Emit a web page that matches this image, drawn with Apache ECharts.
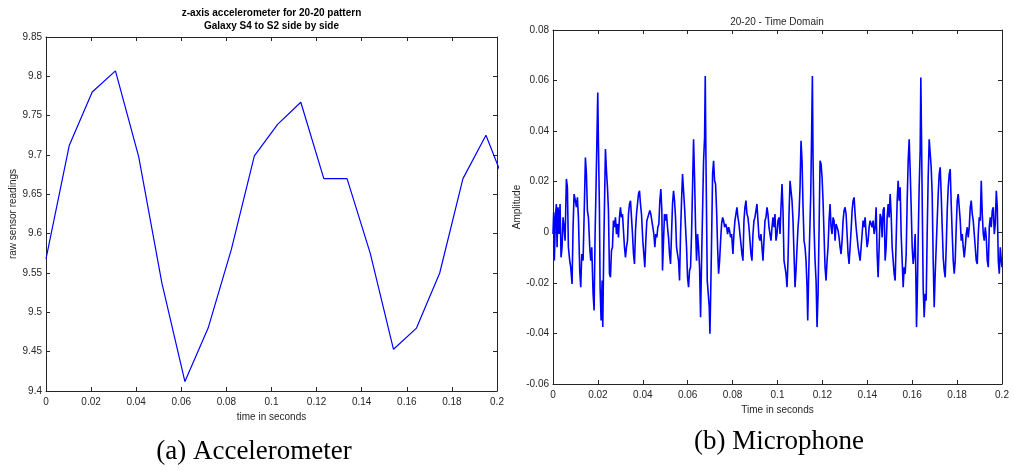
<!DOCTYPE html>
<html>
<head>
<meta charset="utf-8">
<script src="https://cdn.jsdelivr.net/npm/echarts@6/dist/echarts.min.js"></script>
<style>
html,body{margin:0;padding:0;background:#fff;}
#c{width:1014px;height:471px;}
</style>
</head>
<body>
<div id="c"></div>
<script>
// ---------- (a) accelerometer ----------
const accTime = [0, 0.0103, 0.0205, 0.0308, 0.0411, 0.0514, 0.0616, 0.0719, 0.0822, 0.0924, 0.1027,
  0.1130, 0.1232, 0.1335, 0.1438, 0.1541, 0.1643, 0.1746, 0.1849, 0.1951, 0.2054];
const accValue = [9.568, 9.712, 9.780, 9.807, 9.698, 9.537, 9.412, 9.480, 9.580, 9.699, 9.739,
  9.767, 9.670, 9.670, 9.575, 9.453, 9.480, 9.550, 9.670, 9.725, 9.650];

// ---------- (b) microphone (time in ms, amplitude in 1e-3 units) ----------
const micTimeMs = [
  0, 0.31, 0.61, 1.06, 1.50, 1.80, 2.25, 2.69, 3.14, 3.59,
  4.03, 4.48, 4.92, 5.37, 5.97, 6.41, 6.86, 7.45, 7.90, 8.49,
  8.94, 9.39, 9.98, 10.43, 10.87, 11.32, 11.91, 12.36, 12.81, 13.40,
  13.85, 14.44, 14.89, 15.33, 15.78, 16.37, 16.82, 17.27, 17.86, 18.31,
  18.75, 19.05, 19.50, 19.94, 20.24, 20.69, 20.98, 21.43, 21.88, 22.17,
  22.62, 23.07, 23.36, 23.81, 24.26, 24.70, 25.15, 25.59, 26.04, 26.49,
  26.93, 27.38, 27.82, 28.27, 28.72, 29.16, 29.61, 30.05, 30.50, 30.95,
  31.39, 31.84, 32.28, 32.73, 33.18, 33.62, 34.07, 34.52, 34.96, 35.41,
  35.85, 36.30, 36.75, 37.19, 37.64, 38.08, 38.53, 38.97, 39.42,
  40.01, 40.45, 40.90, 41.35, 41.79, 42.24, 42.68, 43.13, 43.58, 44.02,
  44.47, 44.92, 45.36, 45.81, 46.25, 46.70, 47.15, 47.59, 48.04, 48.48,
  48.78, 49.23, 49.67, 50.12, 50.57, 51.01, 51.46, 51.90, 52.35, 52.80,
  53.24, 53.69, 54.13, 54.58, 55.03, 55.47, 55.92, 56.37, 56.81, 57.26,
  57.70, 58.15, 58.60, 59.04, 59.49, 59.93, 60.38, 60.83, 61.27, 61.72,
  62.16, 62.61, 63.06, 63.50, 63.95, 64.40, 64.84, 65.29, 65.73, 66.18,
  66.63, 67.07, 67.52, 67.82, 68.11, 68.41, 68.71, 69.15, 69.60, 69.90,
  70.19, 70.64, 71.09, 71.53, 71.98, 72.42, 72.87, 73.32, 73.76, 74.21,
  74.66, 75.10, 75.55, 75.99, 76.44, 76.89, 77.33, 77.78, 78.22, 78.67, 79.12, 79.56,
  80.15, 80.59, 81.04, 81.49, 81.93, 82.38, 82.82, 83.27, 83.72, 84.16,
  84.61, 85.06, 85.50, 85.95, 86.39, 86.84, 87.29, 87.73, 88.18, 88.62,
  89.07, 89.52, 89.96, 90.41, 90.85, 91.30, 91.75, 92.19, 92.64, 93.09,
  93.53, 93.98, 94.42, 94.87, 95.32, 95.76, 96.21, 96.65, 97.10, 97.55,
  97.99, 98.44, 98.88, 99.33, 99.78, 100.22, 100.67, 101.12, 101.56, 102.01,
  102.45, 102.90, 103.35, 103.79, 104.24, 104.68, 105.13, 105.58, 106.02, 106.47,
  106.91, 107.36, 107.81, 108.25, 108.70, 109.15, 109.59, 110.04, 110.48, 110.93,
  111.38, 111.82, 112.27, 112.71, 113.16, 113.46, 113.90, 114.35, 114.80, 115.24,
  115.54, 115.84, 116.28, 116.73, 117.18, 117.62, 118.07, 118.51, 118.96, 119.41, 119.85,
  120.29, 120.73, 121.18, 121.63, 122.07, 122.52, 122.96, 123.41, 123.86, 124.30,
  124.75, 125.20, 125.64, 126.09, 126.53, 126.98, 127.43, 127.87, 128.32, 128.76,
  129.21, 129.66, 130.10, 130.55, 130.99, 131.44, 131.89, 132.33, 132.78, 133.23,
  133.67, 134.12, 134.56, 135.01, 135.46, 135.90, 136.35, 136.79, 137.24, 137.69,
  138.13, 138.58, 139.02, 139.47, 139.92, 140.36, 140.81, 141.26, 141.70, 142.15,
  142.59, 143.04, 143.49, 143.93, 144.38, 144.82, 145.27, 145.72, 146.16, 146.61,
  147.05, 147.50, 147.95, 148.39, 148.84, 149.29, 149.73, 150.18, 150.62, 151.07,
  151.52, 151.96, 152.41, 152.85, 153.30, 153.75, 154.19, 154.64, 155.08, 155.53,
  155.98, 156.42, 156.87, 157.32, 157.76, 158.21, 158.65, 159.10, 159.55, 159.99,
  160.43, 160.87, 161.32, 161.62, 161.92, 162.21, 162.66, 163.10, 163.55, 163.85,
  164.15, 164.59, 164.89, 165.34, 165.78, 166.23, 166.67, 167.12, 167.57, 168.01,
  168.46, 168.90, 169.35, 169.80, 170.24, 170.69, 171.13, 171.58, 172.03, 172.47,
  172.92, 173.37, 173.81, 174.26, 174.70, 175.15, 175.60, 176.04, 176.49, 176.93,
  177.38, 177.83, 178.27, 178.72, 179.16, 179.61, 180.06, 180.50, 180.95, 181.40,
  181.84, 182.29, 182.73, 183.18, 183.63, 184.07, 184.52, 184.96, 185.41, 185.86,
  186.30, 186.75, 187.19, 187.64, 188.09, 188.53, 188.98, 189.43, 189.87, 190.32,
  190.76, 191.21, 191.66, 192.10, 192.55, 192.99, 193.44, 193.89, 194.33, 194.78,
  195.22, 195.67, 196.12, 196.56, 197.01, 197.46, 197.90, 198.35, 198.79, 199.24,
  199.69, 199.98
];
const micAmpMilli = [
  -0.7, 7.9, -11.2, 5.9, 11.2, -5.9, 9.9, -0.7, 11.2, -9.9,
  -5.9, 5.9, 2.0, -3.3, 21.1, 17.8, -5.9, -11.2, -13.8, -20.4,
  2.0, 15.1, 12.5, 9.9, 13.8, 5.9, -15.1, -21.7, -8.6, -11.2,
  5.9, 29.6, 23.0, 8.6, 5.9, -5.9, -11.2, -5.9, -24.3, -30.9,
  -0.7, 12.5, 33.6, 55.3, 34.9, 8.6, -21.7, -34.9, -19.1, -37.5,
  -5.9, 17.8, 32.9, 24.3, 17.8, 8.6, -16.4, -17.8, -7.2, -5.9,
  4.6, 2.0, 5.9, -0.7, 3.3, -2.0, 5.9, 9.9, 5.9, 7.2,
  0.7, -5.9, -9.9, -5.9, -3.3, 7.2, 11.2, 12.5, 5.9, -0.7,
  -8.6, -12.5, 0.7, 7.2, 11.2, 15.1, 16.4, 11.2, 7.2,
  -3.3, -8.6, -13.8, -3.3, 4.6, 5.9, 7.2, 8.6, 7.2, 4.6,
  2.0, -0.7, -5.9, -0.7, -2.0, 2.0, 3.3, 12.5, 17.1, 8.6,
  -15.1, -3.3, 7.2, 4.6, 7.2, 2.0, -2.0, -8.6, -12.5, -0.7,
  11.2, 16.4, 12.5, 5.9, -5.9, -8.6, -11.2, -19.1, -0.7, 12.5,
  23.0, 16.4, 9.9, 2.0, -5.9, -17.8, -21.7, -15.1, -13.8, -0.7,
  17.8, 36.8, 21.7, 2.0, -11.2, -0.7, -5.9, -13.8, -33.6, -11.2,
  8.6, 28.3, 37.5, 61.8, 30.9, 5.9, -19.1, -24.3, -29.6, -40.1,
  -27.0, -3.3, 23.0, 28.3, 20.4, 19.1, 8.6, -5.9, -16.4, -11.2,
  -3.3, 3.3, 5.9, 4.6, 2.0, 3.3, 2.0, -0.7, 2.0, 0.7, -2.0, -0.7,
  -8.6, -0.7, 4.6, 7.2, 9.9, 5.9, 3.3, -0.7, -4.6, -8.6,
  -11.2, 4.6, 9.9, 12.5, 7.2, 5.9, 2.0, -3.3, -8.6, -11.2,
  -0.7, 4.6, 5.9, 8.6, 11.2, 4.6, -2.0, -3.3, -0.7, -5.9,
  -11.2, -3.3, 4.6, 5.9, 9.9, 7.2, 2.0, -0.7, -3.3, 2.0,
  5.9, 2.0, 7.2, -3.3, -0.7, 4.6, 5.9, -0.7, 9.9, 19.1,
  8.6, -11.2, -13.8, -16.4, -21.7, -11.2, 7.2, 20.4, 16.4, 12.5,
  4.6, -8.6, -21.7, -15.1, -5.9, 2.0, 7.2, 17.8, 36.2, 28.3,
  9.9, -3.3, -5.9, -11.2, -21.7, -34.9, -16.4, -0.7, 15.1, 41.4,
  61.8, 28.3, 2.0, -11.2, -19.1, -37.5, -24.3, 0.7, 28.3, 27.0, 21.7,
  12.5, -0.7, -13.8, -19.1, -11.2, -5.9, 4.6, 11.2, 2.0, -0.7,
  5.9, 4.6, -3.3, 3.3, 2.0, 0.7, -2.0, -5.9, -8.6, -3.3,
  4.6, 8.6, 9.9, 7.2, -0.7, -8.6, -12.5, -5.9, 0.7, 8.6,
  12.5, 13.8, 7.2, 2.0, -2.0, -5.9, -8.6, -11.2, -5.9, -0.7,
  4.6, 2.0, 5.9, -0.7, -5.9, -3.3, 2.0, 4.6, 3.3, 2.0,
  4.6, -0.7, 2.0, 9.9, -8.6, -17.8, -5.9, 7.2, 5.9, -2.0,
  8.6, 9.9, -11.2, -5.9, 5.9, 11.2, 5.9, 15.1, 7.2, -5.9,
  -11.2, -16.4, -19.1, -3.3, 12.5, 20.4, 12.5, 17.8, -0.7, -11.2,
  -21.7, -13.8, -16.4, -8.6, 12.5, 28.3, 36.8, 24.3, 9.9, -5.9,
  -12.5, -8.6, -0.7, -16.4, -37.5, -27.0, -3.3, 17.8, 32.2, 61.2,
  37.5, 2.0, -21.7, -33.6, -24.3, -27.0, -0.7, 21.7, 36.8, 36.2,
  25.7, 15.1, -11.2, -29.6, -16.4, -5.9, 4.6, 15.1, 23.0, 25.7,
  15.1, 2.0, -9.9, -15.1, -17.8, -5.9, 8.6, 17.8, 23.0, 25.0,
  11.2, -0.7, -11.2, -16.4, -11.2, 2.0, 12.5, 15.1, 9.9, 4.6,
  -3.3, -0.7, -5.9, -9.9, -5.9, -0.7, 2.0, -2.0, 2.0, 9.9,
  12.5, 7.2, 4.6, -0.7, -5.9, -11.2, -12.5, -0.7, 5.9, 4.6,
  20.4, 7.2, -0.7, -3.3, 2.0, -2.0, -11.2, -13.8, 2.0, 5.9,
  2.0, 8.6, 9.9, -0.7, 3.3, 16.4, 9.9, -11.2, -16.4, -5.9,
  -11.2, -13.8
];

// ---------- tick settings ----------
const accXTicks = {min: 0, max: 0.2, interval: 0.02};
const accYTicks = {min: 9.4, max: 9.85, interval: 0.05};
const micXTicks = {min: 0, max: 0.2, interval: 0.02};
const micYTicks = {min: -0.06, max: 0.08, interval: 0.02};

const AX = '#262626';
const FONT = '"Liberation Sans", Arial, sans-serif';
const SERIF = '"Liberation Serif", "DejaVu Serif", serif';
const fmt = v => String(parseFloat(Number(v).toFixed(4)));

function axis(base, extra) {
  return Object.assign({
    type: 'value',
    min: base.min, max: base.max, interval: base.interval,
    axisLine: {show: true, onZero: false, lineStyle: {color: AX, width: 1}},
    axisTick: {show: true, inside: true, length: 4, lineStyle: {color: AX}},
    axisLabel: {show: true, color: AX, fontSize: 10, fontFamily: FONT, formatter: fmt},
    splitLine: {show: false},
    nameTextStyle: {color: AX, fontSize: 10, fontFamily: FONT}
  }, extra);
}
function mirror(base, extra) {
  const a = axis(base, extra);
  a.axisLabel = {show: false};
  return a;
}

const n = Math.min(micTimeMs.length, micAmpMilli.length);
const micData = [];
for (let i = 0; i < n; i++) micData.push([micTimeMs[i] / 1000, micAmpMilli[i] / 1000]);
const accData = accTime.map((t, i) => [t, accValue[i]]);

const chart = echarts.init(document.getElementById('c'), null, {renderer: 'canvas'});
chart.setOption({
  animation: false,
  backgroundColor: '#ffffff',
  grid: [
    {left: 46, top: 37, width: 451, height: 354},
    {left: 553, top: 30, width: 449, height: 354}
  ],
  xAxis: [
    axis(accXTicks, {gridIndex: 0, position: 'bottom', name: 'time in seconds', nameLocation: 'middle', nameGap: 19,
      axisLabel: {color: AX, fontSize: 10, fontFamily: FONT, formatter: fmt, margin: 6}}),
    mirror(accXTicks, {gridIndex: 0, position: 'top'}),
    axis(micXTicks, {gridIndex: 1, position: 'bottom', name: 'Time in seconds', nameLocation: 'middle', nameGap: 18,
      axisLabel: {color: AX, fontSize: 10, fontFamily: FONT, formatter: fmt, margin: 6}}),
    mirror(micXTicks, {gridIndex: 1, position: 'top'})
  ],
  yAxis: [
    axis(accYTicks, {gridIndex: 0, position: 'left', name: 'raw sensor readings', nameLocation: 'middle', nameGap: 28,
      axisLabel: {color: AX, fontSize: 10, fontFamily: FONT, formatter: fmt, margin: 4}}),
    mirror(accYTicks, {gridIndex: 0, position: 'right'}),
    axis(micYTicks, {gridIndex: 1, position: 'left', name: 'Amplitude', nameLocation: 'middle', nameGap: 28,
      axisLabel: {color: AX, fontSize: 10, fontFamily: FONT, formatter: fmt, margin: 4}}),
    mirror(micYTicks, {gridIndex: 1, position: 'right'})
  ],
  series: [
    {type: 'line', xAxisIndex: 0, yAxisIndex: 0, data: accData, showSymbol: false, clip: true,
      lineStyle: {color: '#0000ff', width: 1.2}, itemStyle: {color: '#0000ff'}},
    {type: 'line', xAxisIndex: 2, yAxisIndex: 2, data: micData, showSymbol: false, clip: true,
      lineStyle: {color: '#0000ff', width: 1.6}, itemStyle: {color: '#0000ff'}}
  ],
  graphic: [
    {type: 'text', x: 271.5, y: 13, style: {text: 'z-axis accelerometer for 20-20 pattern', fontSize: 10, fontWeight: 'bold', fontFamily: FONT, fill: '#000', align: 'center', verticalAlign: 'middle'}},
    {type: 'text', x: 271.5, y: 26, style: {text: 'Galaxy S4 to S2 side by side', fontSize: 10, fontWeight: 'bold', fontFamily: FONT, fill: '#000', align: 'center', verticalAlign: 'middle'}},
    {type: 'text', x: 777, y: 22, style: {text: '20-20 - Time Domain', fontSize: 10, fontFamily: FONT, fill: AX, align: 'center', verticalAlign: 'middle'}},
    {type: 'text', x: 254, y: 452, style: {text: '(a) Accelerometer', fontSize: 27, fontFamily: SERIF, fill: '#000', align: 'center', verticalAlign: 'middle'}},
    {type: 'text', x: 779, y: 442, style: {text: '(b) Microphone', fontSize: 27, fontFamily: SERIF, fill: '#000', align: 'center', verticalAlign: 'middle'}}
  ]
});
</script>
</body>
</html>
